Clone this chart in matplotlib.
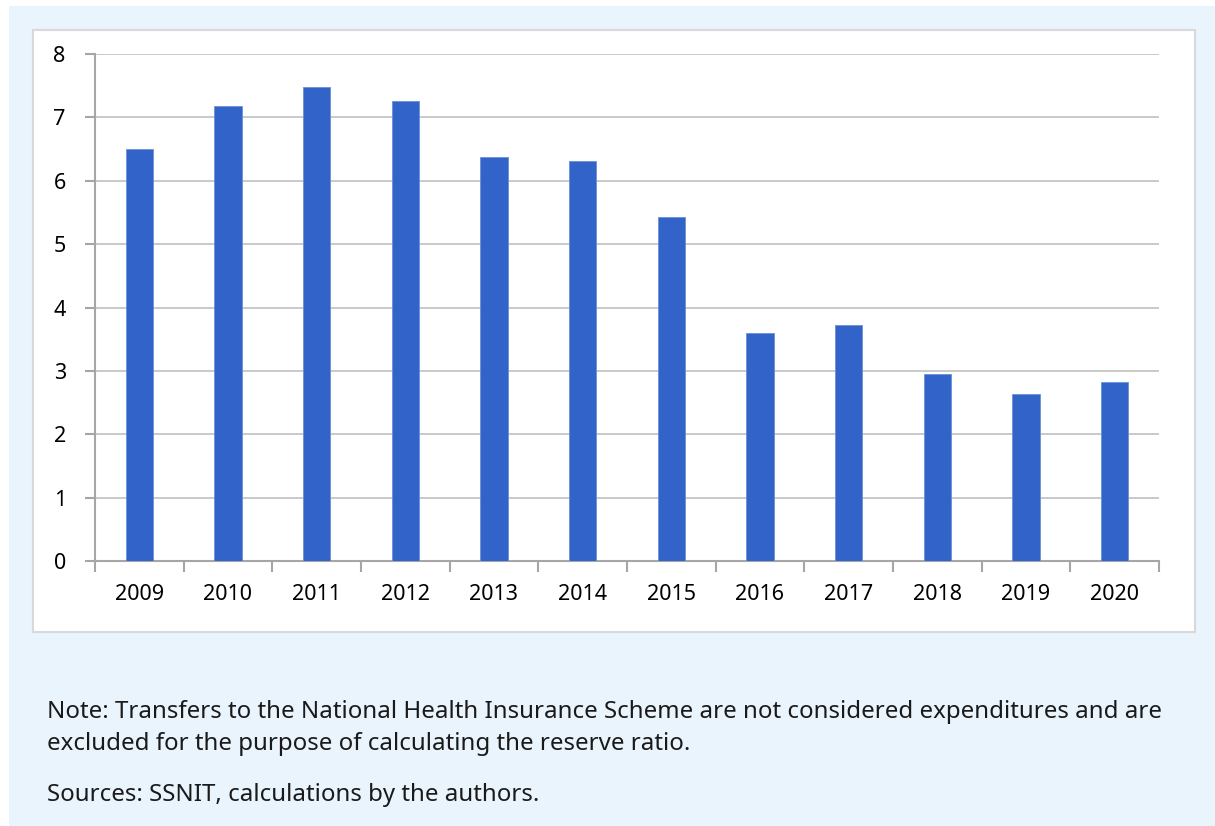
import matplotlib
matplotlib.use("Agg")
import matplotlib.pyplot as plt
from matplotlib.patches import Rectangle

years = ["2009", "2010", "2011", "2012", "2013", "2014", "2015", "2016", "2017", "2018", "2019", "2020"]
reserve_ratio = [6.50, 7.18, 7.48, 7.26, 6.37, 6.31, 5.43, 3.60, 3.72, 2.95, 2.63, 2.82]
y_ticks = [0, 1, 2, 3, 4, 5, 6, 7, 8]
note_lines = ["Note: Transfers to the National Health Insurance Scheme are not considered expenditures and are",
              "excluded for the purpose of calculating the reserve ratio."]
source_text = "Sources: SSNIT, calculations by the authors."

plt.rcParams['font.family'] = ['Noto Sans', 'DejaVu Sans']

W, H = 1215, 826
fig = plt.figure(figsize=(W / 100, H / 100), dpi=100)
fig.patch.set_facecolor("white")

bg = "#EAF4FD"
# light blue panel
fig.patches.append(Rectangle((9 / W, 0), 1 - 9 / W, 1 - 6 / H, transform=fig.transFigure,
                             facecolor=bg, edgecolor="none", zorder=0))
# white chart box
fig.patches.append(Rectangle((33 / W, 1 - 632 / H), (1195 - 33) / W, (632 - 30) / H,
                             transform=fig.transFigure, facecolor="white",
                             edgecolor="#D9D9D9", linewidth=1.5, zorder=1))

ax = fig.add_axes([95 / W, 1 - 561 / H, (1159 - 95) / W, (561 - 54) / H])
ax.set_zorder(2)
ax.patch.set_alpha(0)

x = list(range(len(years)))
ax.bar(x, reserve_ratio, width=0.31, color="#3263C8", edgecolor="#6B8FD8", linewidth=0.6, zorder=3)

ax.set_xlim(-0.5, len(years) - 0.5)
ax.set_ylim(0, 8)
ax.set_yticks(y_ticks)
ax.set_yticklabels([str(t) for t in y_ticks])
ax.set_xticks(x)
ax.set_xticklabels(years)
ax.set_xticks([i - 0.5 for i in range(len(years) + 1)], minor=True)

ax.yaxis.grid(True, color="#C0C0C0", linewidth=1.2, zorder=0)
ax.set_axisbelow(True)

for s in ["top", "right"]:
    ax.spines[s].set_visible(False)
for s in ["left", "bottom"]:
    ax.spines[s].set_color("#A6A6A6")
    ax.spines[s].set_linewidth(1.5)

ax.tick_params(axis="x", which="major", length=0, pad=16.5, labelsize=15.5, labelcolor="black")
ax.tick_params(axis="x", which="minor", length=8, width=1.5, color="#A6A6A6", direction="out")
ax.tick_params(axis="y", which="major", length=7, width=1.5, color="#A6A6A6", pad=14,
               labelsize=15.5, labelcolor="black")

fs = 17.3
fig.text(47 / W, 1 - 712 / H, note_lines[0], fontsize=fs, va="center", ha="left",
         color="#1a1a1a", zorder=3)
fig.text(47 / W, 1 - 744 / H, note_lines[1], fontsize=fs, va="center", ha="left",
         color="#1a1a1a", zorder=3)
fig.text(47 / W, 1 - 795 / H, source_text, fontsize=fs, va="center", ha="left",
         color="#1a1a1a", zorder=3)

fig.savefig("out.png", dpi=100, facecolor=fig.get_facecolor())
